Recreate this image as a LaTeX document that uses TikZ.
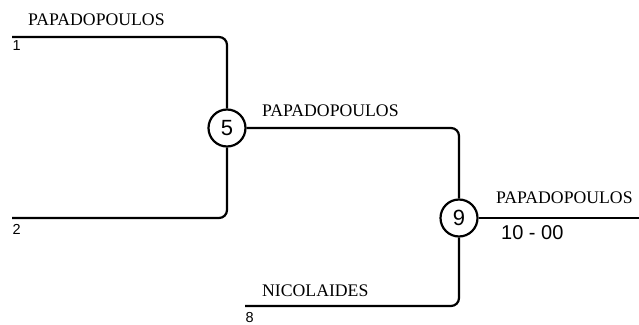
\documentclass[tikz,border=0pt]{standalone}
\usepackage{fontspec}
\setmainfont{Liberation Serif}
\newfontfamily\digitfont{Liberation Sans}
\usetikzlibrary{positioning}

\begin{document}
\begin{tikzpicture}[
  x=1pt,y=-1pt,
  ln/.style={line width=2.2pt,rounded corners=8pt},
  mtch/.style={circle,draw,line width=2.2pt,minimum size=37pt,inner sep=0pt,
               font=\digitfont\fontsize{22}{22}\selectfont},
  plyr/.style={anchor=base west,inner sep=0pt,font=\fontsize{17.7}{17.7}\selectfont},
  seed/.style={anchor=base west,inner sep=0pt,font=\digitfont\fontsize{14.5}{14.5}\selectfont}
]
\useasboundingbox (0,0) rectangle (639,324);

% ---- Matches ------------------------------------------------
\node[mtch] (m5) at (227,128) {5};
\node[mtch] (m9) at (459,218) {9};

% ---- Line ends ----------------------------------------------
\coordinate (s1) at (12,37);
\coordinate (s2) at (12,218);
\coordinate (s8) at (245,306);
\coordinate (win) at (639,218);

% ---- Connectors ---------------------------------------------
\draw[ln] (s1) -| (m5);
\draw[ln] (s2) -| (m5);
\draw[ln] (m5) -| (m9);
\draw[ln] (s8) -| (m9);
\draw[ln] (m9) -- (win);

% ---- Labels -------------------------------------------------
\node[plyr] (n1) at (28,25.5) {PAPADOPOULOS};
\node[seed] (k1) at (12.5,50) {1};
\node[seed] (k2) at (12.5,234) {2};
\node[plyr] (n5) at (262,116) {PAPADOPOULOS};
\node[plyr] (n8) at (262,296) {NICOLAIDES};
\node[seed] (k8) at (245.5,322) {8};
\node[plyr] (n9) at (496,203) {PAPADOPOULOS};
\node[anchor=base west,inner sep=0pt,font=\digitfont\fontsize{20}{20}\selectfont]
  (score) at (501,239) {10 - 00};

\end{tikzpicture}
\end{document}
